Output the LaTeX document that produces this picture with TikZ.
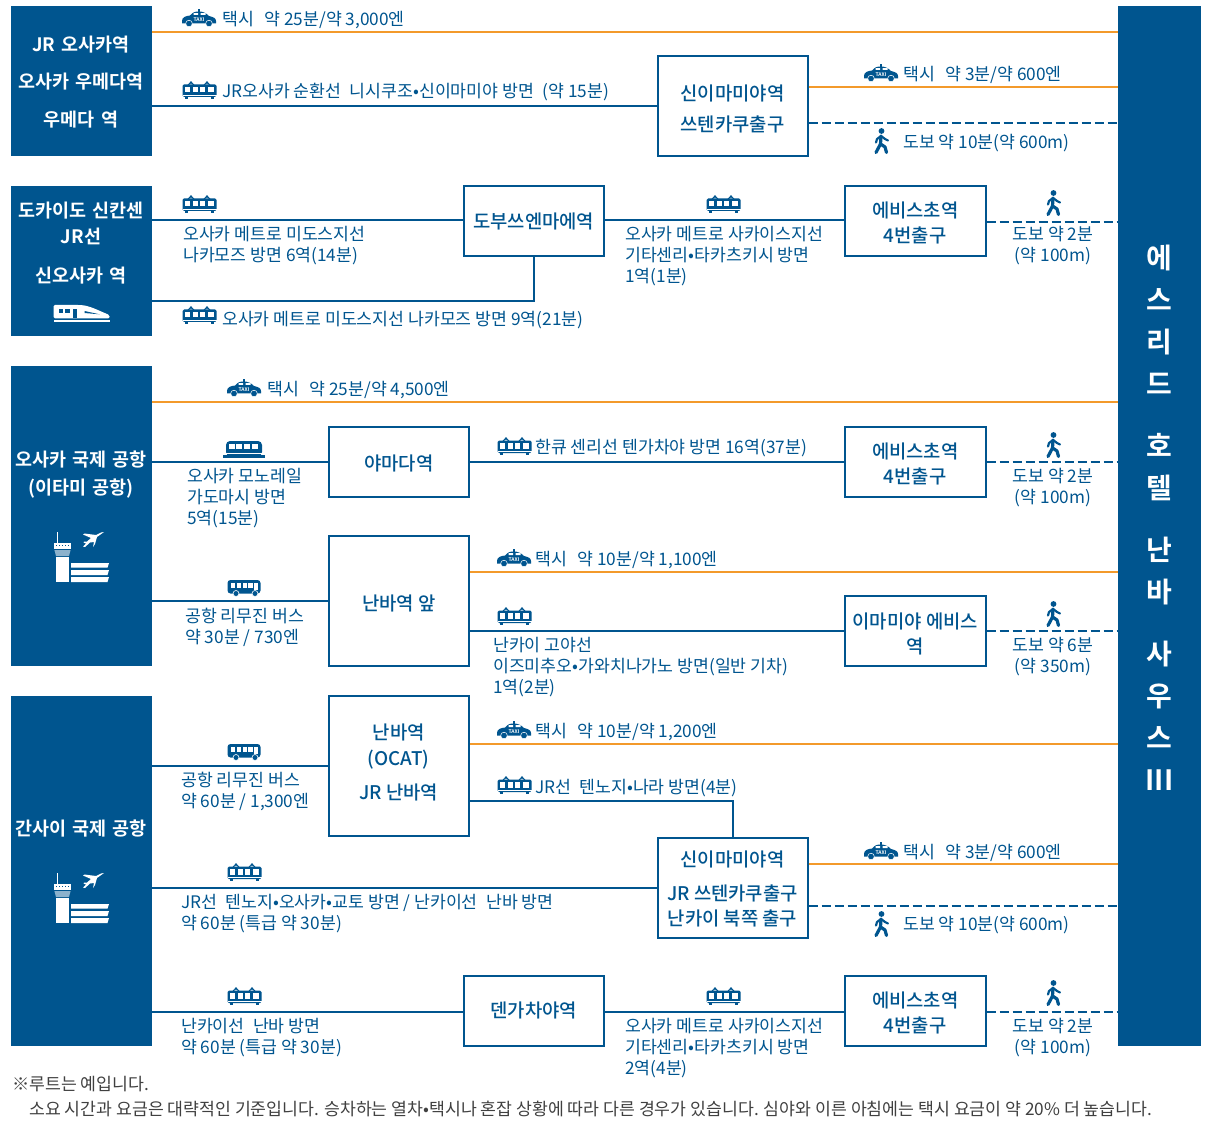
\documentclass[tikz,border=0pt]{standalone}
\usepackage{fontspec}
\setmainfont{Noto Sans CJK KR}
\newfontfamily\krbold{Noto Sans CJK KR Bold}
\newfontfamily\krmed{Noto Sans CJK KR Medium}
\newcommand{\sgap}{\hspace{4.5pt}}
\definecolor{navy}{RGB}{0,85,143}
\definecolor{amber}{RGB}{243,154,43}
\tikzset{
 lbl/.style={anchor=west,align=left,inner sep=0pt,text=navy,yshift=-2.5pt,
   font=\fontsize{17.25}{21}\selectfont,execute at begin node=\strut,execute at end node=\strut},
 clbl/.style={lbl,anchor=center,align=center},
 multi/.style={yshift=-1pt},
 stationbox/.style={draw=navy,line width=2pt,fill=white,inner sep=0pt},
 boxtxt/.style={inner sep=0pt,align=center,text=navy,font=\krmed\fontsize{18.8}{25}\selectfont},
 wide/.style={minimum width=150pt,minimum height=100.5pt},
 std/.style={minimum width=140.5pt,minimum height=70.5pt},
 block/.style={fill=navy,inner sep=0pt},
 blocktxt/.style={inner sep=0pt,text=white,align=center,font=\krbold\fontsize{18.5}{26}\selectfont},
 railln/.style={draw=navy,line width=2pt},
 taxiln/.style={draw=amber,line width=2pt},
 walkln/.style={draw=navy,line width=2pt,dash pattern=on 9pt off 4pt},
 traingl/.pic={
  \fill[navy,rounded corners=1.5pt] (0.5,-6.5) rectangle (34.5,6);
  \draw[navy,line width=1.1pt] (6,-6)--(9,-8.5)--(12,-6) (22,-6)--(25,-8.5)--(28,-6);
  \fill[navy] (9,-8.5) circle (1.4) (25,-8.5) circle (1.4);
  \foreach \a/\b in {3.3/8.3,10.5/15.5,18/23,26/31.5}\fill[white] (\a,-4) rectangle (\b,1.5);
  \fill[white] (0.5,3.6) rectangle (34.5,4.4);
  \foreach \a in {3,29}\fill[navy] (\a,6) rectangle (\a+3,8);
 },
 busgl/.pic={
  \fill[navy,rounded corners=3pt] (0.5,-8) rectangle (33.5,5.5);
  \foreach \a in {3.5,9.5,15.5,21}\fill[white] (\a,-5.5) rectangle (\a+4.5,-0.5);
  \fill[white] (26.5,-5.5) rectangle (31,1.5);
  \foreach \a in {9,28}\fill[navy,draw=white,line width=.6pt] (\a,5.5) circle (3);
 },
 monogl/.pic={
  \fill[navy,rounded corners=4pt] (-18,-8) rectangle (18,7);
  \foreach \a in {-15,-8,0,8}\fill[white] (\a,-5) rectangle (\a+6,0);
  \fill[white] (-18,3.5) rectangle (18,4.3);
  \fill[navy] (-21,6) rectangle (21,8.5);
 },
 taxigl/.pic={
  \fill[navy] (0,3) .. controls (0,-1) and (4,-2) .. (8,-2.5)
    .. controls (11,-6) and (13,-6.5) .. (17,-6.5)
    .. controls (21,-6.5) and (24,-5) .. (27,-2)
    .. controls (31,-1) and (34,0) .. (34,3) -- (34,5.5) -- (0,5.5) -- cycle;
  \fill[navy] (15.7,-8.8) rectangle (17.9,-5);
  \fill[navy,draw=white,line width=.5pt] (7,5.5) circle (3.3) (27,5.5) circle (3.3);
  \fill[white] (11.5,-4.8) rectangle (16,-3) (18.5,-4.8) rectangle (23.5,-3);
  \node[inner sep=0pt,text=white,font=\krbold\fontsize{5}{5}\selectfont] (taxitxt) at (17,1.6) {TAXI};
 },
 walkgl/.pic={
  \fill[navy] (0.5,-10) circle (2.9);
  \draw[navy,line width=3.2pt,line cap=round,line join=round] (0,-5) -- (-0.5,3) -- (-5,11.5);
  \draw[navy,line width=3.2pt,line cap=round,line join=round] (-0.5,3) -- (4,6) -- (5.5,11.5);
  \draw[navy,line width=2.2pt,line cap=round,line join=round] (0,-5) -- (-4,-2) -- (-5,1.5);
  \draw[navy,line width=2.2pt,line cap=round,line join=round] (0,-5) -- (4,-2) -- (7,-0.5);
 },
 bulletgl/.pic={
  \fill[white,rounded corners=1.5pt] (0,0) -- (26,0) .. controls (36,0.5) and (46,6) .. (56,10) -- (56,13.5) -- (0,13.5) -- cycle;
  \fill[white] (0,15.5) rectangle (56,17);
  \foreach \a in {5,11.5}\fill[navy] (\a,4) rectangle (\a+4.5,8);
  \fill[navy] (19,4) rectangle (23.5,13);
  \fill[navy] (31,6) -- (46,9.3) -- (31,8) -- cycle;
 },
 airportgl/.pic={
  \fill[white] (2.8,0) rectangle (4,11);
  \fill[white] (0,11) rectangle (17,17);
  \foreach \a in {2,5,8,11,14}\fill[navy] (\a,13) rectangle (\a+1.2,14.4);
  \fill[white,opacity=.55] (0.4,18) -- (16.6,18) -- (15,24) -- (2,24) -- cycle;
  \fill[white] (2,25) rectangle (15,50);
  \fill[white] (17,31) -- (55,31) -- (53.5,35.7) -- (17,35.7) -- cycle;
  \fill[white] (17,38) -- (55,38) -- (53.5,43) -- (17,43) -- cycle;
  \fill[white] (17,45) -- (55,45) -- (53.5,50) -- (17,50) -- cycle;
  \fill[white] (29,14.5) -- (31,15) -- (36,10.5) -- (40,10) -- (39,15) -- (41,12) -- (43,5) -- (50,0) -- (47,0.5) -- (42,3) -- (30.5,1.5) -- (29,2.5) -- (37,6) -- (33,9.5) -- (30,9.5) -- (29.5,10.5) -- (32,11.5) -- cycle;
 }
}
\begin{document}
\begin{tikzpicture}[x=1pt,y=-1pt]
\useasboundingbox (0,0) rectangle (1210,1131);
% columns
\node[block,minimum width=82.5pt,minimum height=1040pt] (hotel) at (1159.25,526) {};
\node[block,minimum width=140.5pt,minimum height=150pt] (jr) at (81.25,81) {};
\node[block,minimum width=140.5pt,minimum height=150pt] (shin) at (81.25,261) {};
\node[block,minimum width=140.5pt,minimum height=300pt] (itami) at (81.25,516) {};
\node[block,minimum width=140.5pt,minimum height=350pt] (kix) at (81.25,871) {};
\node[blocktxt,text width=140pt] (jrt) at (81,82) {JR 오사카역\\[11.5pt]오사카 우메다역\\[11.5pt]우메다 역};
\node[blocktxt,text width=140pt] (shint) at (81,243) {도카이도 신칸센\\[0pt]JR선\\[13pt]신오사카 역};
\node[blocktxt,text width=140pt] (itamit) at (81,474.5) {오사카 국제 공항\\[2pt](이타미 공항)};
\node[blocktxt,text width=140pt] (kixt) at (81,828.5) {간사이 국제 공항};
\node[inner sep=0pt,text=white,align=center,font=\krbold\fontsize{28}{42}\selectfont] (hotelt) at (1159.5,518)
 {에\\스\\리\\드\\[20pt]호\\텔\\[20pt]난\\바\\[20pt]사\\우\\스\\III};
\pic at (53.5,305) {bulletgl};
\pic at (54,532) {airportgl};
\pic at (54,873) {airportgl};
% station boxes
\node[stationbox,wide,label={[boxtxt,name=umestnt,yshift=-3pt]center:{신이마미야역\\[6pt]쓰텐카쿠출구}}] (umestn) at (732.5,106) {};
\node[stationbox,std,label={[boxtxt,name=zoot]center:{도부쓰엔마에역}}] (zoo) at (533.75,221) {};
\node[stationbox,std,label={[boxtxt,name=ebi1t,yshift=-2pt]center:{에비스초역\\4번출구}}] (ebi1) at (915.25,221) {};
\node[stationbox,std,label={[boxtxt,name=yamadat,yshift=-1pt]center:{야마다역}}] (yamada) at (398.75,462) {};
\node[stationbox,std,label={[boxtxt,name=ebi2t,yshift=-2pt]center:{에비스초역\\4번출구}}] (ebi2) at (915.25,462) {};
\node[stationbox,minimum width=140.5pt,minimum height=130.5pt,label={[boxtxt,name=namba1t,yshift=-2pt]center:{난바역 앞}}] (namba1) at (398.75,601) {};
\node[stationbox,std,label={[boxtxt,name=imamiyat,yshift=-3pt]center:{이마미야 에비스\\역}}] (imamiya) at (915.25,631) {};
\node[stationbox,minimum width=140.5pt,minimum height=140.5pt,label={[boxtxt,name=namba2t,yshift=-3.5pt]center:{난바역\\[1pt](OCAT)\\[9pt]JR 난바역\rule[-16pt]{0pt}{1pt}}}] (namba2) at (398.75,766) {};
\node[stationbox,wide,label={[boxtxt,name=shin2t,yshift=-1pt]center:{신이마미야역\\[9pt]JR 쓰텐카쿠출구\\난카이 북쪽 출구}}] (shin2) at (732.5,888) {};
\node[stationbox,std,label={[boxtxt,name=tengat,yshift=1pt]center:{덴가차야역}}] (tenga) at (533.75,1011) {};
\node[stationbox,std,label={[boxtxt,name=ebi3t,yshift=-2pt]center:{에비스초역\\4번출구}}] (ebi3) at (915.25,1011) {};
% connectors
\draw[taxiln] (jr.east |- 0,32) -- (hotel.west |- 0,32);
\draw[railln] (jr.east |- umestn.west) -- (umestn.west);
\draw[taxiln] (umestn.east |- 0,87) -- (hotel.west |- 0,87);
\draw[walkln] (umestn.east |- 0,123) -- (hotel.west |- 0,123);
\draw[railln] (shin.east |- 0,220) -- (zoo.west |- 0,220);
\draw[railln] (zoo.east |- 0,220) -- (ebi1.west |- 0,220);
\draw[walkln] (ebi1.east |- 0,222) -- (hotel.west |- 0,222);
\draw[railln] (shin.east |- 0,301) -| (zoo.south);
\draw[taxiln] (itami.east |- 0,402) -- (hotel.west |- 0,402);
\draw[railln] (itami.east |- yamada.west) -- (yamada.west);
\draw[railln] (yamada.east) -- (ebi2.west);
\draw[walkln] (ebi2.east) -- (hotel.west |- ebi2.east);
\draw[railln] (itami.east |- namba1.west) -- (namba1.west);
\draw[taxiln] (namba1.east |- 0,572) -- (hotel.west |- 0,572);
\draw[railln] (namba1.east |- imamiya.west) -- (imamiya.west);
\draw[walkln] (imamiya.east) -- (hotel.west |- imamiya.east);
\draw[railln] (kix.east |- namba2.west) -- (namba2.west);
\draw[taxiln] (namba2.east |- 0,744) -- (hotel.west |- 0,744);
\draw[railln] (namba2.east |- 0,801) -| (shin2.north);
\draw[railln] (kix.east |- shin2.west) -- (shin2.west);
\draw[taxiln] (shin2.east |- 0,864) -- (hotel.west |- 0,864);
\draw[walkln] (shin2.east |- 0,906) -- (hotel.west |- 0,906);
\draw[railln] (kix.east |- 0,1012) -- (tenga.west |- 0,1012);
\draw[railln] (tenga.east |- 0,1012) -- (ebi3.west |- 0,1012);
\draw[walkln] (ebi3.east |- 0,1012) -- (hotel.west |- 0,1012);
% icons
\foreach \x/\y in {182/18,864/73,227/388,497/558,497/730,864/851}\pic at (\x,\y) {taxigl};
\foreach \x/\y in {182/91,182/205,706/205,182/316,497/447,497/617,497/786,227/873,227/997,706/997}\pic at (\x,\y) {traingl};
\foreach \x/\y in {881/141,1053/203,1053/445,1053/614,881/924,1053/993}\pic at (\x,\y) {walkgl};
\pic at (227,588) {busgl};
\pic at (227,752) {busgl};
\pic at (244,449) {monogl};
% labels
\node[lbl] (a1) at (222,19) {택시 \ \,약 25분/약 3,000엔};
\node[lbl] (a2) at (222,91) {JR오사카 순환선 \sgap 니시쿠조•신이마미야 방면 \sgap(약 15분)};
\node[lbl] (a3) at (903,73.5) {택시 \ \,약 3분/약 600엔};
\node[lbl] (a4) at (903,141.5) {도보 약 10분(약 600m)};
\node[lbl,multi] (b1) at (183,243.5) {오사카 메트로 미도스지선\\나카모즈 방면 6역(14분)};
\node[lbl,multi] (b2) at (625,254) {오사카 메트로 사카이스지선\\기타센리•타카츠키시 방면\\1역(1분)};
\node[clbl,multi] (b3) at (1053,243.5) {도보 약 2분\\(약 100m)};
\node[lbl] (b4) at (222,318.5) {오사카 메트로 미도스지선 나카모즈 방면 9역(21분)};
\node[lbl] (c1) at (267,388.5) {택시 \ \,약 25분/약 4,500엔};
\node[lbl,multi] (c2) at (187,496) {오사카 모노레일\\가도마시 방면\\5역(15분)};
\node[lbl] (c3) at (535,447) {한큐 센리선 텐가차야 방면 16역(37분)};
\node[clbl,multi] (c4) at (1053,485.5) {도보 약 2분\\(약 100m)};
\node[lbl,multi] (d1) at (185,625.5) {공항 리무진 버스\\약 30분 / 730엔};
\node[lbl] (d2) at (535,558.5) {택시 \ \,약 10분/약 1,100엔};
\node[lbl,multi] (d3) at (493,665) {난카이 고야선\\이즈미추오•가와치나가노 방면(일반 기차)\\1역(2분)};
\node[clbl,multi] (d4) at (1053,654.5) {도보 약 6분\\(약 350m)};
\node[lbl,multi] (e1) at (181,789.5) {공항 리무진 버스\\약 60분 / 1,300엔};
\node[lbl] (e2) at (535,730.5) {택시 \ \,약 10분/약 1,200엔};
\node[lbl] (e3) at (535,787) {JR선 \sgap 텐노지•나라 방면(4분)};
\node[lbl] (e4) at (903,851.5) {택시 \ \,약 3분/약 600엔};
\node[lbl] (e5) at (903,924) {도보 약 10분(약 600m)};
\node[lbl,multi] (e6) at (181,911.5) {JR선 \sgap 텐노지•오사카•교토 방면 / 난카이선 \sgap 난바 방면\\약 60분 (특급 약 30분)};
\node[lbl,multi] (f1) at (181,1035.5) {난카이선 \sgap 난바 방면\\약 60분 (특급 약 30분)};
\node[lbl,multi] (f2) at (625,1046) {오사카 메트로 사카이스지선\\기타센리•타카츠키시 방면\\2역(4분)};
\node[clbl,multi] (f3) at (1053,1035.5) {도보 약 2분\\(약 100m)};
\node[lbl,text=black!75] (n1) at (12,1084) {※루트는 예입니다.};
\node[lbl,text=black!75] (n2) at (29,1109) {소요 시간과 요금은 대략적인 기준입니다. 승차하는 열차•택시나 혼잡 상황에 따라 다른 경우가 있습니다. 심야와 이른 아침에는 택시 요금이 약 20\% 더 높습니다.};
\end{tikzpicture}
\end{document}
